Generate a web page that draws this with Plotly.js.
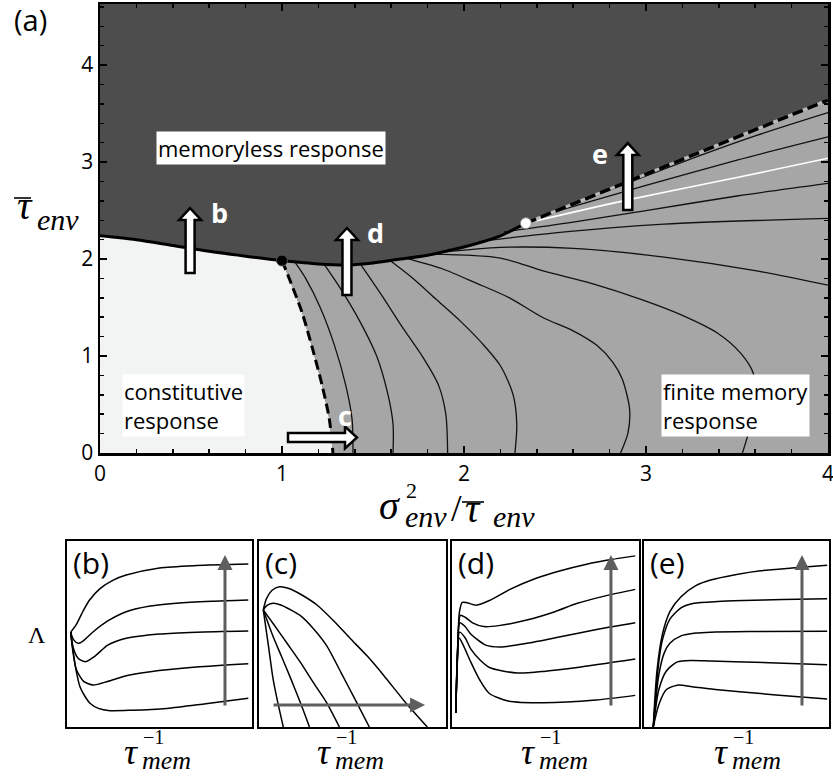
<!DOCTYPE html>
<html><head><meta charset="utf-8">
<script src="https://cdn.plot.ly/plotly-3.0.1.min.js"></script>
<style>html,body{margin:0;padding:0;background:#fff}</style>
</head><body><div id="plot" style="width:833px;height:776px"></div>
<script>
// ===== (a) phase diagram data =====
const solidX = [0,0.2,0.4,0.6,0.8,1.0,1.2,1.37,1.5,1.65,1.8,1.92,2.05,2.2,2.34];
const solidY = [2.24,2.2,2.14,2.08,2.03,1.985,1.95,1.94,1.96,2.0,2.04,2.09,2.15,2.24,2.37];
const blackDotIndex = 5;
const dashLX = [1.0,1.05,1.11,1.17,1.22,1.26,1.28];
const dashLY = [1.985,1.75,1.45,1.06,0.7,0.35,0];
const dashRX = [2.34,4];
const dashRY = [2.37,3.64];
// contour lines (left family)
const k1x=[1.07,1.13,1.21,1.29,1.35,1.385,1.39], k1y=[1.97,1.8,1.5,1.1,0.7,0.35,0];
const k2x=[1.23,1.32,1.43,1.52,1.58,1.61,1.61], k2y=[1.95,1.7,1.35,1.0,0.62,0.3,0];
const k3x=[1.43,1.55,1.66,1.77,1.86,1.90,1.91], k3y=[1.95,1.62,1.30,1.0,0.7,0.4,0];
const k4x=[1.59,1.72,1.85,1.98,2.10,2.2,2.27,2.29,2.28], k4y=[1.99,1.8,1.58,1.36,1.13,0.9,0.6,0.3,0];
const k5x=[1.68,1.88,2.07,2.25,2.43,2.6,2.73,2.82,2.87,2.91,2.9,2.86], k5y=[2.01,1.9,1.75,1.6,1.40,1.26,1.11,0.93,0.76,0.45,0.2,0];
const k6x=[1.82,2.2,2.43,2.7,2.98,3.2,3.39,3.52,3.59,3.6,3.53], k6y=[2.05,2.01,1.88,1.75,1.58,1.42,1.24,1.03,0.82,0.5,0];
// contour lines (right family)
const r5x=[1.88,2.2,2.6,3.1,3.6,4], r5y=[2.07,2.12,2.11,2.02,1.88,1.73];
const r4x=[2.08,2.5,3.1,4], r4y=[2.18,2.27,2.36,2.42];
const r3x=[2.22,2.6,3.0,3.5,4], r3y=[2.28,2.38,2.5,2.65,2.78];
const r2x=[2.45,3.0,3.5,4], r2y=[2.46,2.76,3.02,3.26];
const r1x=[2.7,3.2,3.6,4], r1y=[2.64,3.0,3.27,3.51];
const wX=[2.34,2.9,3.5,4], wY=[2.37,2.61,2.84,3.04];
const dotsBlack={x:[1.0],y:[1.985]}, dotsWhite={x:[2.34],y:[2.37]};

// ===== (b) =====
const bX1=[0.02,0.05,0.08,0.12,0.18,0.25,0.32,0.5,0.7,0.98], bY1=[0.51,0.55,0.61,0.68,0.745,0.79,0.817,0.855,0.868,0.876];
const bX2=[0.02,0.035,0.061,0.09,0.142,0.22,0.32,0.45,0.59,0.78,0.98], bY2=[0.51,0.47,0.45,0.465,0.512,0.57,0.62,0.65,0.665,0.676,0.683];
const bX3=[0.02,0.034,0.06,0.097,0.15,0.22,0.32,0.5,0.7,0.98], bY3=[0.51,0.425,0.37,0.351,0.38,0.44,0.477,0.5,0.51,0.516];
const bX4=[0.02,0.03,0.05,0.09,0.142,0.22,0.32,0.45,0.7,0.98], bY4=[0.51,0.42,0.31,0.245,0.226,0.245,0.275,0.297,0.322,0.34];
const bX5=[0.02,0.03,0.05,0.07,0.1,0.124,0.17,0.232,0.35,0.54,0.75,0.98], bY5=[0.51,0.43,0.3,0.217,0.16,0.128,0.1,0.088,0.09,0.10,0.125,0.154];
// ===== (c) =====
const cX1=[0.023,0.04,0.07,0.11,0.16,0.22,0.31,0.4,0.487,0.58,0.665,0.78,0.9], cY1=[0.63,0.69,0.735,0.754,0.745,0.715,0.656,0.57,0.477,0.38,0.28,0.136,0.0];
const cX2=[0.023,0.045,0.077,0.12,0.17,0.22,0.29,0.36,0.44,0.52,0.59], cY2=[0.63,0.655,0.665,0.655,0.63,0.6,0.53,0.44,0.29,0.136,0.0];
const cX3=[0.023,0.08,0.15,0.22,0.29,0.36,0.43], cY3=[0.63,0.55,0.45,0.35,0.24,0.134,0.0];
const cX4=[0.023,0.07,0.12,0.17,0.22,0.27], cY4=[0.63,0.5,0.38,0.26,0.134,0];
const cX5=[0.023,0.05,0.075,0.10,0.13], cY5=[0.63,0.44,0.26,0.134,0];
// ===== (d) =====
const dX1=[0.02,0.03,0.04,0.055,0.08,0.13,0.2,0.31,0.45,0.58,0.72,0.85,0.98], dY1=[0.075,0.42,0.62,0.67,0.668,0.655,0.68,0.74,0.80,0.84,0.875,0.90,0.92];
const dX2=[0.02,0.03,0.045,0.07,0.11,0.17,0.25,0.4,0.55,0.67,0.82,0.98], dY2=[0.075,0.42,0.6,0.59,0.56,0.54,0.545,0.575,0.62,0.665,0.705,0.74];
const dX3=[0.02,0.03,0.042,0.07,0.1,0.18,0.26,0.4,0.58,0.78,0.98], dY3=[0.075,0.4,0.56,0.54,0.5,0.44,0.43,0.45,0.485,0.525,0.56];
const dX4=[0.02,0.03,0.04,0.07,0.1,0.15,0.2,0.35,0.5,0.67,0.98], dY4=[0.075,0.38,0.51,0.48,0.42,0.36,0.32,0.29,0.3,0.32,0.365];
const dX5=[0.02,0.028,0.037,0.06,0.1,0.15,0.2,0.3,0.49,0.77,0.98], dY5=[0.075,0.35,0.48,0.44,0.35,0.25,0.18,0.14,0.13,0.145,0.17];
// ===== (e) =====
const eX1=[0.05,0.07,0.1,0.14,0.2,0.28,0.36,0.5,0.63,0.8,0.99], eY1=[0,0.3,0.5,0.62,0.7,0.76,0.79,0.82,0.84,0.855,0.87];
const eX2=[0.05,0.08,0.1,0.14,0.2,0.27,0.4,0.54,0.75,0.99], eY2=[0,0.35,0.47,0.58,0.64,0.665,0.675,0.68,0.685,0.69];
const eX3=[0.05,0.08,0.11,0.14,0.2,0.28,0.36,0.6,0.99], eY3=[0,0.28,0.4,0.45,0.49,0.505,0.51,0.513,0.515];
const eX4=[0.05,0.08,0.12,0.18,0.26,0.36,0.6,0.99], eY4=[0,0.2,0.3,0.35,0.358,0.355,0.348,0.335];
const eX5=[0.05,0.08,0.12,0.18,0.27,0.4,0.63,0.8,0.99], eY5=[0,0.12,0.2,0.225,0.215,0.2,0.18,0.165,0.15];

const xTicks=[0,1,2,3,4], yTicks=[0,1,2,3,4];

// ===== layout geometry =====
const W=833,H=776;
const XR=[0,4], YR=[0,4.63];
const box={a:{x:[100,828],y:[4,453]}, b:{x:[67,252],y:[541,727]}, c:{x:[259,446],y:[541,727]}, d:{x:[452,639],y:[541,727]}, e:{x:[644,829],y:[541,727]}};
const tauRight={b:140,c:333,d:537,e:730};
const domX=p=>[p[0]/W,p[1]/W], domY=p=>[1-p[1]/H,1-p[0]/H];
const PX=x=>x/W, PY=y=>1-y/H;
const DARK='#4d4d4d', MID='#a6a6a6', LIGHT='#f2f3f3', ARROWGRAY='#5e5e5e';

const traces=[];
const lightX=solidX.slice(0,blackDotIndex+1).concat(dashLX.slice(1),[XR[0]]);
const lightY=solidY.slice(0,blackDotIndex+1).concat(dashLY.slice(1),[YR[0]]);
traces.push({x:lightX,y:lightY,fill:'toself',fillcolor:LIGHT,mode:'lines',line:{width:0,color:LIGHT},hoverinfo:'skip'});
const midX=dashLX.concat([XR[1]],dashRX.slice().reverse(),solidX.slice(blackDotIndex).reverse());
const midY=dashLY.concat([YR[0]],dashRY.slice().reverse(),solidY.slice(blackDotIndex).reverse());
traces.push({x:midX,y:midY,fill:'toself',fillcolor:MID,mode:'lines',line:{width:0,color:MID},hoverinfo:'skip'});
[[k1x,k1y],[k2x,k2y],[k3x,k3y],[k4x,k4y],[k5x,k5y],[k6x,k6y],[r5x,r5y],[r4x,r4y],[r3x,r3y],[r2x,r2y],[r1x,r1y]].forEach(p=>{
  traces.push({x:p[0],y:p[1],mode:'lines',line:{color:'#111',width:1.3,shape:'spline',smoothing:0.8},hoverinfo:'skip'});
});
traces.push({x:wX,y:wY,mode:'lines',line:{color:'white',width:1.6,shape:'spline',smoothing:0.8},hoverinfo:'skip'});
traces.push({x:solidX,y:solidY,mode:'lines',line:{color:'black',width:3,shape:'spline',smoothing:0.8},hoverinfo:'skip'});
traces.push({x:dashLX,y:dashLY,mode:'lines',line:{color:'black',width:3,dash:'10px,5px',shape:'spline',smoothing:0.8},hoverinfo:'skip'});
traces.push({x:dashRX,y:dashRY,mode:'lines',line:{color:'#b8b8b8',width:3},hoverinfo:'skip'});
traces.push({x:dashRX,y:dashRY,mode:'lines',line:{color:'black',width:3.5,dash:'11px,5px'},hoverinfo:'skip'});
traces.push({x:dotsBlack.x,y:dotsBlack.y,mode:'markers',marker:{color:'black',size:11,line:{color:'#555',width:1}},hoverinfo:'skip'});
traces.push({x:dotsWhite.x,y:dotsWhite.y,mode:'markers',marker:{color:'white',size:11,line:{color:'#888',width:1}},hoverinfo:'skip'});

const panelSets={
  2:[[bX1,bY1],[bX2,bY2],[bX3,bY3],[bX4,bY4],[bX5,bY5]],
  3:[[cX1,cY1],[cX2,cY2],[cX3,cY3],[cX4,cY4],[cX5,cY5]],
  4:[[dX1,dY1],[dX2,dY2],[dX3,dY3],[dX4,dY4],[dX5,dY5]],
  5:[[eX1,eY1],[eX2,eY2],[eX3,eY3],[eX4,eY4],[eX5,eY5]]
};
Object.keys(panelSets).forEach(k=>{
  panelSets[k].forEach(p=>{
    traces.push({x:p[0],y:p[1],xaxis:'x'+k,yaxis:'y'+k,mode:'lines',line:{color:'black',width:1.5,shape:'spline',smoothing:0.7},hoverinfo:'skip'});
  });
});

const sx=(box.a.x[1]-box.a.x[0])/(XR[1]-XR[0]);
const sy=(box.a.y[1]-box.a.y[0])/(YR[1]-YR[0]);
function blockArrow(x0,y0,x1,y1){
  const dxp=(x1-x0)*sx, dyp=(y1-y0)*sy, L=Math.hypot(dxp,dyp);
  const ux=dxp/L, uy=dyp/L, nx=-uy, ny=ux;
  const w=4.5, hw=11, hl=12;
  const pts=[[nx*w,ny*w],[ux*(L-hl)+nx*w,uy*(L-hl)+ny*w],[ux*(L-hl)+nx*hw,uy*(L-hl)+ny*hw],[ux*L,uy*L],
             [ux*(L-hl)-nx*hw,uy*(L-hl)-ny*hw],[ux*(L-hl)-nx*w,uy*(L-hl)-ny*w],[-nx*w,-ny*w]];
  const path=pts.map((p,i)=>(i?'L':'M')+(x0+p[0]/sx).toFixed(4)+','+(y0+p[1]/sy).toFixed(4)).join(' ')+' Z';
  return {type:'path',xref:'x',yref:'y',path:path,fillcolor:'white',line:{color:'black',width:2.5},layer:'above'};
}
function overline(x0,x1,y){
  return {type:'line',xref:'paper',yref:'paper',x0:PX(x0),x1:PX(x1),y0:PY(y),y1:PY(y),line:{color:'black',width:1.6}};
}
const shapes=[
  {type:'rect',xref:'x domain',yref:'y domain',x0:0,x1:1,y0:0,y1:1,fillcolor:DARK,line:{width:0},layer:'below'},
  blockArrow(0.495,1.856,0.495,2.526),
  blockArrow(1.357,1.63,1.357,2.32),
  blockArrow(2.90,2.505,2.90,3.196),
  blockArrow(1.033,0.16,1.412,0.16),
  overline(14,31,198),
  overline(462,484,502)
];

const sansF={family:'Open Sans, Noto Sans, sans-serif',color:'black'};
const serifF={family:'Liberation Serif, DejaVu Serif, serif',color:'black'};
const ann=[];
function txt(text,px,py,size,opts,serif){
  ann.push(Object.assign({text:text,xref:'paper',yref:'paper',x:PX(px),y:PY(py),showarrow:false,xanchor:'center',yanchor:'middle',
    font:Object.assign({},serif?serifF:sansF,{size:size})},opts||{}));
}
txt('(a)',12,19,29,{xanchor:'left'});
ann.push({text:'memoryless response',xref:'x',yref:'y',x:0.94,y:3.14,showarrow:false,bgcolor:'white',borderpad:1,font:Object.assign({},sansF,{size:22})});
ann.push({text:'constitutive<br>response',xref:'x',yref:'y',x:0.46,y:0.485,showarrow:false,align:'left',bgcolor:'white',borderpad:1,font:Object.assign({},sansF,{size:22})});
ann.push({text:'finite memory<br>response',xref:'x',yref:'y',x:3.49,y:0.49,showarrow:false,align:'left',bgcolor:'white',borderpad:1,font:Object.assign({},sansF,{size:22})});
[['b',0.654,2.48],['d',1.516,2.27],['e',2.747,3.09],['c',1.346,0.39]].forEach(a=>{
  ann.push({text:'<b>'+a[0]+'</b>',xref:'x',yref:'y',x:a[1],y:a[2],showarrow:false,font:Object.assign({},sansF,{size:27,color:'white'})});
});
// y title: tau-bar env
txt('<i>τ</i>',35,206,40,{xanchor:'right'},true);
txt('<i>env</i>',35,219,30,{xanchor:'left'},true);
// x title: sigma^2_env / tau-bar_env
txt('<i>σ</i>',389,505,40,null,true);
txt('2',411,490,22,null,true);
txt('<i>env</i>',426,516,30,null,true);
txt('/',456,508,38,null,true);
txt('<i>τ</i>',473,508,40,null,true);
txt('<i>env</i>',514,516,30,null,true);
txt('Λ',37,635,24,null,true);
['b','c','d','e'].forEach(k=>{
  const bx=box[k], tr=tauRight[k];
  txt('('+k+')',bx.x[0]+4,bx.y[0]-1,30,{xanchor:'left',yanchor:'top'});
  txt('<i>τ</i>',tr,752,36,{xanchor:'right'},true);
  txt('<i>mem</i>',tr,760,26,{xanchor:'left'},true);
  txt('−1',tr+1,737,20,{xanchor:'left'},true);
});
function grayArrow(k,x0,y0,x1,y1){
  ann.push({xref:'x'+k,yref:'y'+k,axref:'x'+k,ayref:'y'+k,x:x1,y:y1,ax:x0,ay:y0,text:'',showarrow:true,arrowhead:2,arrowsize:1,arrowwidth:3,arrowcolor:ARROWGRAY});
}
grayArrow(2,0.854,0.108,0.854,0.925);
grayArrow(3,0.07,0.118,0.888,0.118);
grayArrow(4,0.85,0.108,0.85,0.925);
grayArrow(5,0.854,0.108,0.854,0.925);

const mainAx={ticks:'inside',ticklen:7,tickwidth:2,tickcolor:'black',ticklabeloverflow:'allow',
    minor:{dtick:0.2,tick0:0,ticks:'inside',ticklen:4,tickwidth:1.5,tickcolor:'black'},
    showline:true,linecolor:'black',linewidth:2.5,mirror:'allticks',showgrid:false,zeroline:false,
    tickfont:Object.assign({},sansF,{size:21}),fixedrange:true};
const layout={
  width:W,height:H,margin:{l:0,r:0,t:0,b:0},paper_bgcolor:'white',plot_bgcolor:'rgba(0,0,0,0)',showlegend:false,
  xaxis:Object.assign({},mainAx,{domain:domX(box.a.x),range:XR,tickvals:xTicks,anchor:'y'}),
  yaxis:Object.assign({},mainAx,{domain:domY(box.a.y),range:YR,tickvals:yTicks,anchor:'x'}),
  shapes:shapes,annotations:ann
};
['b','c','d','e'].forEach((k,i)=>{
  const n=i+2;
  const ax={range:[0,1],showticklabels:false,ticks:'',showgrid:false,zeroline:false,showline:true,mirror:true,linecolor:'black',linewidth:2.2,fixedrange:true};
  layout['xaxis'+n]=Object.assign({},ax,{domain:domX(box[k].x),anchor:'y'+n});
  layout['yaxis'+n]=Object.assign({},ax,{domain:domY(box[k].y),anchor:'x'+n});
});
Plotly.newPlot('plot',traces,layout,{staticPlot:true,displayModeBar:false});
</script></body></html>
